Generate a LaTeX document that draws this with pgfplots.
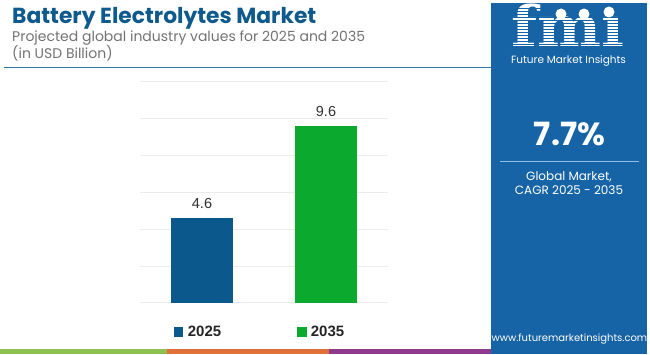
\documentclass[border=0pt]{standalone}
\usepackage{pgfplots}
\pgfplotsset{compat=1.18}
\usepackage{fontspec}
\setmainfont{Poppins}
\newfontfamily\arial{Liberation Sans}
\newfontfamily\slab{DejaVu Serif}
\definecolor{titleblue}{RGB}{15,90,140}
\definecolor{subgray}{RGB}{115,115,115}
\definecolor{cA}{RGB}{10,88,140}
\definecolor{cB}{RGB}{11,170,46}
\definecolor{panel}{RGB}{22,100,165}
\definecolor{sep}{RGB}{140,190,230}
\definecolor{sgreen}{RGB}{141,193,82}
\definecolor{sorange}{RGB}{224,112,58}
\definecolor{spurple}{RGB}{142,58,142}
\definecolor{rule}{RGB}{45,115,165}
\begin{document}
\begin{tikzpicture}[x=1pt,y=1pt]
\useasboundingbox (0,0) rectangle (650,354);
\fill[white] (0,0) rectangle (650,354);
% title block
\node[anchor=base west, inner sep=0, text=titleblue, font=\bfseries\fontsize{21.8}{22}\selectfont] at (12,330) {Battery Electrolytes Market};
\node[anchor=base west, inner sep=0, text=subgray, font=\fontsize{14}{14}\selectfont] at (12,312.3) {Projected global industry values for 2025 and 2035};
\node[anchor=base west, inner sep=0, text=subgray, font=\fontsize{14}{14}\selectfont] at (12,295) {(in USD Billion)};
\draw[rule, line width=1pt] (4,286.3) -- (491,286.3);
% chart
\begin{axis}[
  at={(140pt,51.3pt)}, anchor=south west,
  scale only axis, width=248pt, height=221pt,
  xmin=-0.5, xmax=1.5, ymin=0, ymax=12,
  ytick={0,2,...,12}, yticklabels={}, xtick=\empty,
  ymajorgrids, grid style={color=black!8, line width=0.7pt},
  axis line style={draw=none}, major tick length=0pt,
  clip=false,
  nodes near coords style={anchor=base, yshift=9.3pt, font=\arial\fontsize{14.5}{14.5}\selectfont, text=black!80},
]
\addplot[ybar, bar width=62pt, bar shift=0pt, fill=cA, draw=none, nodes near coords, point meta=explicit symbolic] coordinates {(0,4.6) [4.6]};
\addplot[ybar, bar width=62pt, bar shift=0pt, fill=cB, draw=none, nodes near coords, point meta=explicit symbolic] coordinates {(1,9.6) [9.6]};
\end{axis}
% legend
\fill[cA] (174,16.7) rectangle (183.3,26.7);
\node[anchor=base west, inner sep=0, font=\arial\bfseries\fontsize{15}{15}\selectfont, text=black!85] at (187.7,17.3) {2025};
\fill[cB] (297.3,16.7) rectangle (306.6,26.7);
\node[anchor=base west, inner sep=0, font=\arial\bfseries\fontsize{15}{15}\selectfont, text=black!85] at (310.7,17.3) {2035};
% bottom strip
\fill[sgreen] (0,0) rectangle (167,5);
\fill[sorange] (167,0) rectangle (329,5);
\fill[spurple] (329,0) rectangle (491,5);
% right panel
\fill[panel] (491,0) rectangle (647,351);
\node[anchor=base, inner sep=0, text=white, font=\slab\bfseries\fontsize{56}{56}\selectfont] at (568,307.5) {\scalebox{1.08}[1]{fm\i}};
\foreach \yy in {309.5,312.5,...,346} {\draw[panel, line width=0.8pt] (505,\yy) -- (635,\yy);}
\fill[white] (561,340) circle (5.5);
\fill[white] (584,340) circle (5.5);
\fill[white] (609,342) circle (5.5);
\node[anchor=base, inner sep=0, text=white, font=\fontsize{10.5}{10.5}\selectfont] at (568.5,290.5) {Future Market Insights};
\node[anchor=base, inner sep=0, text=white, font=\bfseries\fontsize{32}{32}\selectfont] at (569.5,208) {7.7\%};
\draw[sep, line width=1pt] (500,192.3) -- (639,192.3);
\node[anchor=base, inner sep=0, text=white, font=\fontsize{12}{12}\selectfont] at (569,173.3) {Global Market,};
\node[anchor=base, inner sep=0, text=white, font=\fontsize{12}{12}\selectfont] at (569,160) {CAGR 2025 - 2035};
\node[anchor=base, inner sep=0, text=white, font=\fontsize{10}{10}\selectfont] at (569.5,13) {www.futuremarketinsights.com};
\end{tikzpicture}
\end{document}
